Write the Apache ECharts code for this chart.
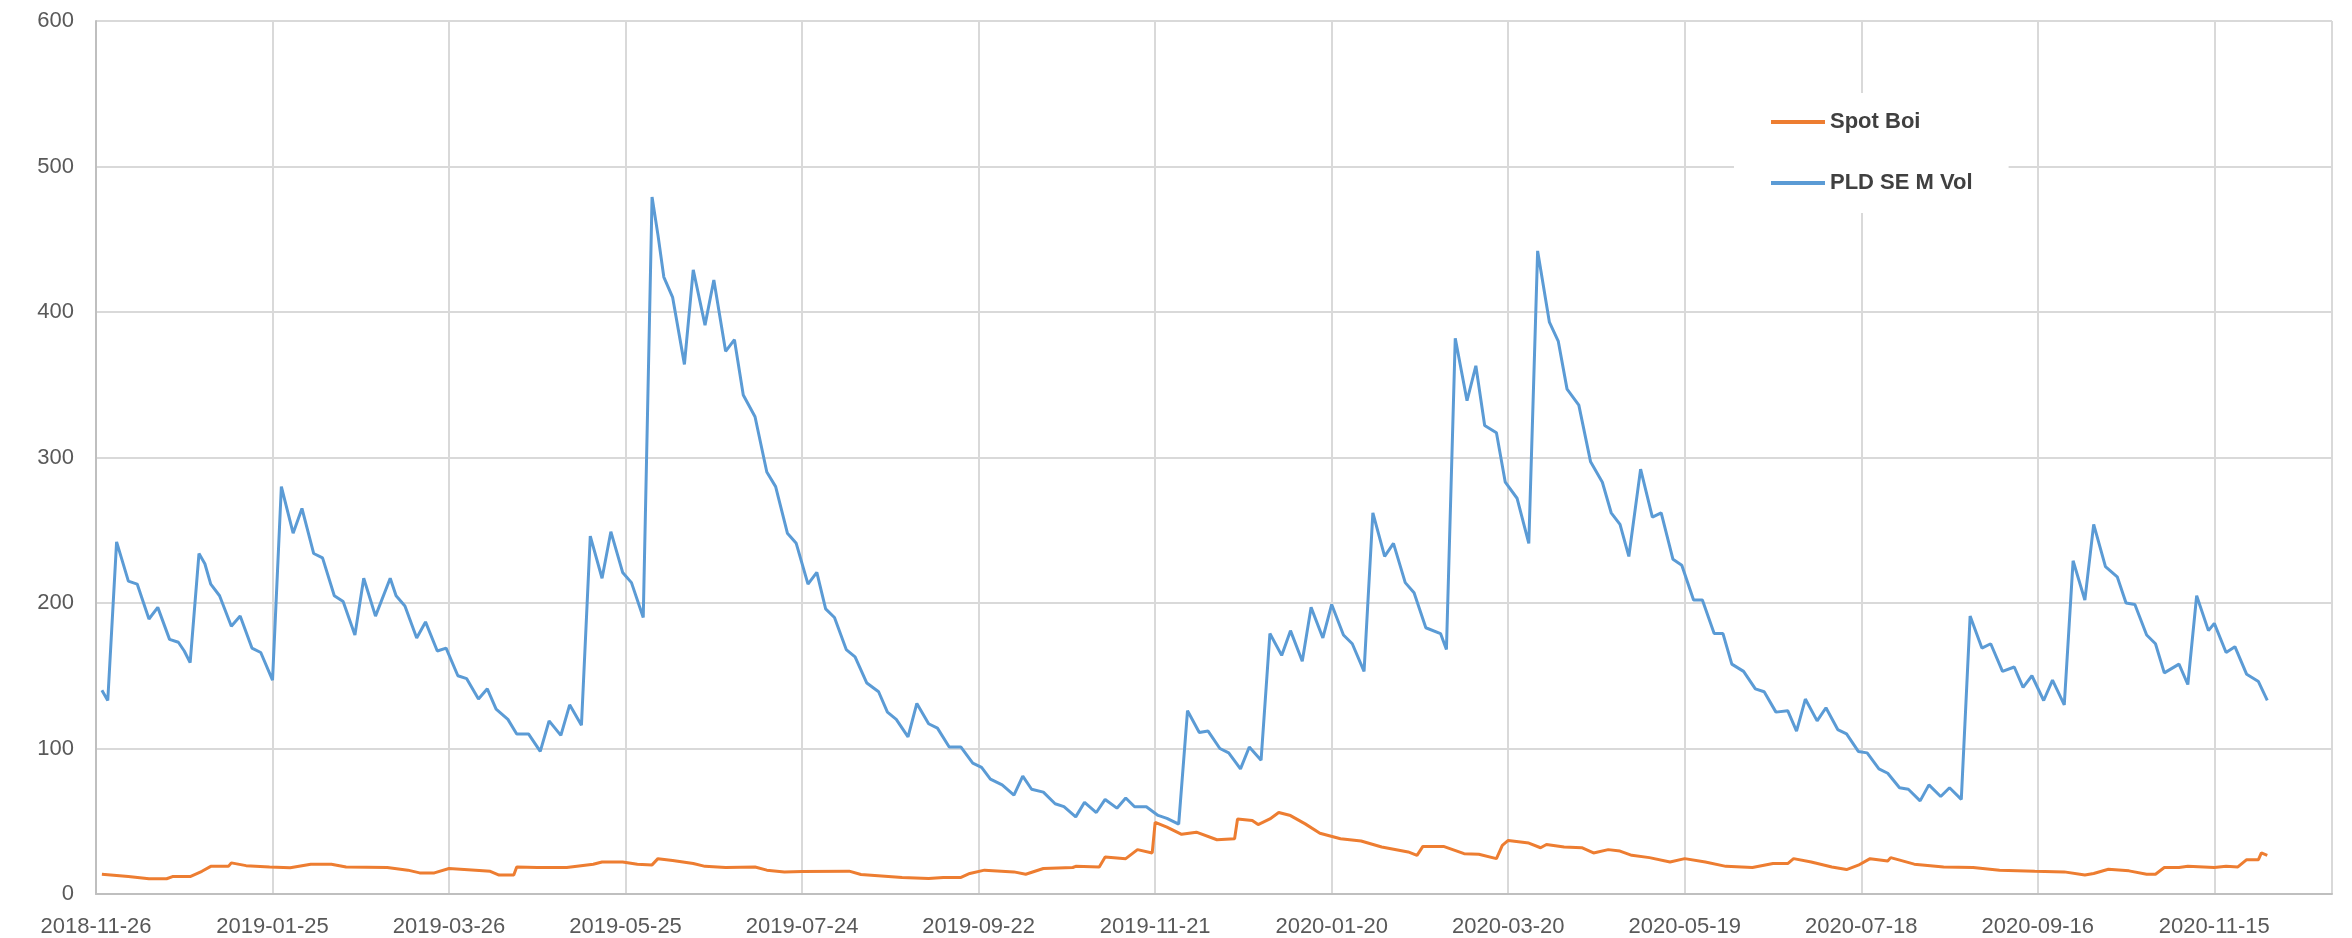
<!DOCTYPE html>
<html>
<head>
<meta charset="utf-8">
<script src="https://cdn.jsdelivr.net/npm/echarts@6/dist/echarts.min.js"></script>
<style>
  html, body { margin: 0; padding: 0; background: #ffffff; }
  #chart { width: 2352px; height: 938px; }
</style>
</head>
<body>
<div id="chart"></div>
<script>
// X positions are days since 2018-11-26 (the first tick label).
const xTickLabels = ['2018-11-26','2019-01-25','2019-03-26','2019-05-25','2019-07-24','2019-09-22','2019-11-21','2020-01-20','2020-03-20','2020-05-19','2020-07-18','2020-09-16','2020-11-15'];
const yTicks = [0, 100, 200, 300, 400, 500, 600];

const pldDay = [2,4,7,11,14,18,21,25,28,30,32,35,37,39,42,46,49,53,56,60,63,67,70,74,77,81,84,88,91,95,100,102,105,109,112,116,119,123,126,130,133,136,140,143,147,151,154,158,161,165,168,172,175,179,182,186,189,191,193,196,200,203,207,210,214,217,220,224,228,231,235,238,242,245,248,251,255,258,262,266,269,272,276,279,283,286,290,294,298,301,304,308,312,315,318,322,326,329,333,336,340,343,347,350,353,357,361,364,368,371,375,378,382,385,389,392,396,399,403,406,410,413,417,420,424,427,431,434,438,441,445,448,452,457,459,462,466,469,472,476,479,483,487,490,494,497,500,504,508,512,515,518,521,525,529,532,536,539,543,546,550,553,556,560,564,567,571,575,578,581,585,588,592,595,599,602,606,609,613,616,620,623,627,630,634,637,641,644,648,652,655,658,662,665,669,672,676,679,683,687,690,693,697,700,703,708,711,714,718,720,724,727,731,735,738];
const pldVal = [140,133,242,215,213,189,197,175,173,167,159,234,227,213,205,184,191,169,166,147,280,248,265,234,231,205,201,178,217,191,217,205,198,176,187,167,169,150,148,134,141,127,120,110,110,98,119,109,130,116,246,217,249,221,214,190,479,453,424,410,364,429,391,422,373,381,343,328,290,280,248,241,213,221,196,190,168,163,145,139,125,120,108,131,117,114,101,101,90,87,79,75,68,81,72,70,62,60,53,63,56,65,59,66,60,60,54,52,48,126,111,112,100,97,86,101,92,179,164,181,160,197,176,199,178,172,153,262,232,241,214,207,183,179,168,382,339,363,322,317,283,272,241,442,393,380,347,336,297,283,262,254,232,292,259,262,230,226,202,202,179,179,158,153,141,139,125,126,112,134,119,128,113,110,98,97,86,83,73,72,64,75,67,73,65,191,169,172,153,156,142,150,133,147,130,229,202,254,225,218,200,199,178,172,152,158,144,205,181,186,166,170,151,146,133];

const spotDay = [2,11,18,24,26,32,36,39,45,46,51,59,66,73,80,85,99,106,110,115,120,129,134,137,142,143,150,160,169,172,179,184,189,191,196,203,207,214,224,228,234,240,256,260,274,283,288,294,297,302,312,316,322,332,333,341,343,350,354,359,360,364,369,374,381,387,388,393,395,399,402,406,411,416,423,430,437,446,449,451,458,465,470,476,478,480,487,491,493,499,505,509,514,518,522,528,535,540,547,554,563,570,575,577,583,590,595,599,603,609,610,618,628,638,647,659,669,676,679,684,691,697,700,703,708,711,720,724,728,731,735,736,738];
const spotVal = [13.6,12,10.5,10.5,12,12,15.6,19,19,21.4,19.5,18.6,18,20.5,20.5,18.6,18.2,16.4,14.5,14.5,17.5,16.4,15.6,13,13,18.6,18.2,18.2,20.5,22,22,20.5,20,24.3,23,21,19,18.2,18.6,16.4,15.2,15.5,15.7,13.4,11.4,10.7,11.4,11.4,14.1,16.4,15.2,13.6,17.5,18.2,19,18.6,25.5,24.3,30.5,28.2,49.3,46,41,42.5,37.3,38,51.6,50.5,47.7,51.6,56,53.9,48.2,41.8,38,36.4,32.3,28.9,26.6,32.7,32.7,27.7,27.3,24.3,33.4,36.8,35,31.8,34,32.3,31.8,28.2,30.5,29.5,26.6,25,22,24.3,22,19,18.2,20.9,20.9,24.3,22,18.6,16.8,19.8,24.3,22.7,25,20.5,18.6,18.2,16.4,15.7,15.2,13,14.1,17,15.9,13.6,13.6,18.2,18.2,19,18.2,19,18.6,23.6,23.6,28.2,26.6];

const seriesNames = ['Spot Boi', 'PLD SE M Vol'];
const seriesColors = ['#ED7D31', '#5B9BD5'];

const pair = (xs, ys) => xs.map((x, i) => [x, ys[i]]);

const chart = echarts.init(document.getElementById('chart'), null, { renderer: 'canvas' });
const labelFont = 'Liberation Sans, Arial, sans-serif';

chart.setOption({
  animation: false,
  backgroundColor: '#ffffff',
  grid: { left: 96, top: 21, right: 20, bottom: 44, containLabel: false },
  legend: {
    orient: 'vertical',
    left: 1734,
    top: 93,
    backgroundColor: '#ffffff',
    padding: [18, 36, 19, 37],
    itemGap: 39,
    itemWidth: 54,
    itemHeight: 4,
    icon: 'rect',
    data: seriesNames,
    textStyle: { fontFamily: labelFont, fontSize: 22, fontWeight: 'bold', color: '#404040', lineHeight: 22 }
  },
  xAxis: {
    type: 'value',
    min: 0,
    max: 760,
    interval: 60,
    axisLine: { show: true, lineStyle: { color: '#bfbfbf', width: 2 } },
    axisTick: { show: false },
    splitLine: { show: true, lineStyle: { color: '#d9d9d9', width: 2 } },
    axisLabel: {
      showMaxLabel: false,
      margin: 22,
      fontFamily: labelFont,
      fontSize: 22,
      color: '#595959',
      formatter: v => (v % 60 === 0 && xTickLabels[v / 60]) ? xTickLabels[v / 60] : ''
    }
  },
  yAxis: {
    type: 'value',
    min: yTicks[0],
    max: yTicks[yTicks.length - 1],
    interval: 100,
    axisLine: { show: true, lineStyle: { color: '#bfbfbf', width: 2 } },
    axisTick: { show: false },
    splitLine: { show: true, lineStyle: { color: '#d9d9d9', width: 2 } },
    axisLabel: { margin: 22, fontFamily: labelFont, fontSize: 22, color: '#595959' }
  },
  series: [
    {
      name: seriesNames[0], type: 'line', data: pair(spotDay, spotVal),
      showSymbol: false, symbol: 'none', color: seriesColors[0],
      lineStyle: { width: 3, color: seriesColors[0] }
    },
    {
      name: seriesNames[1], type: 'line', data: pair(pldDay, pldVal),
      showSymbol: false, symbol: 'none', color: seriesColors[1],
      lineStyle: { width: 3, color: seriesColors[1] }
    }
  ]
});
</script>
</body>
</html>
